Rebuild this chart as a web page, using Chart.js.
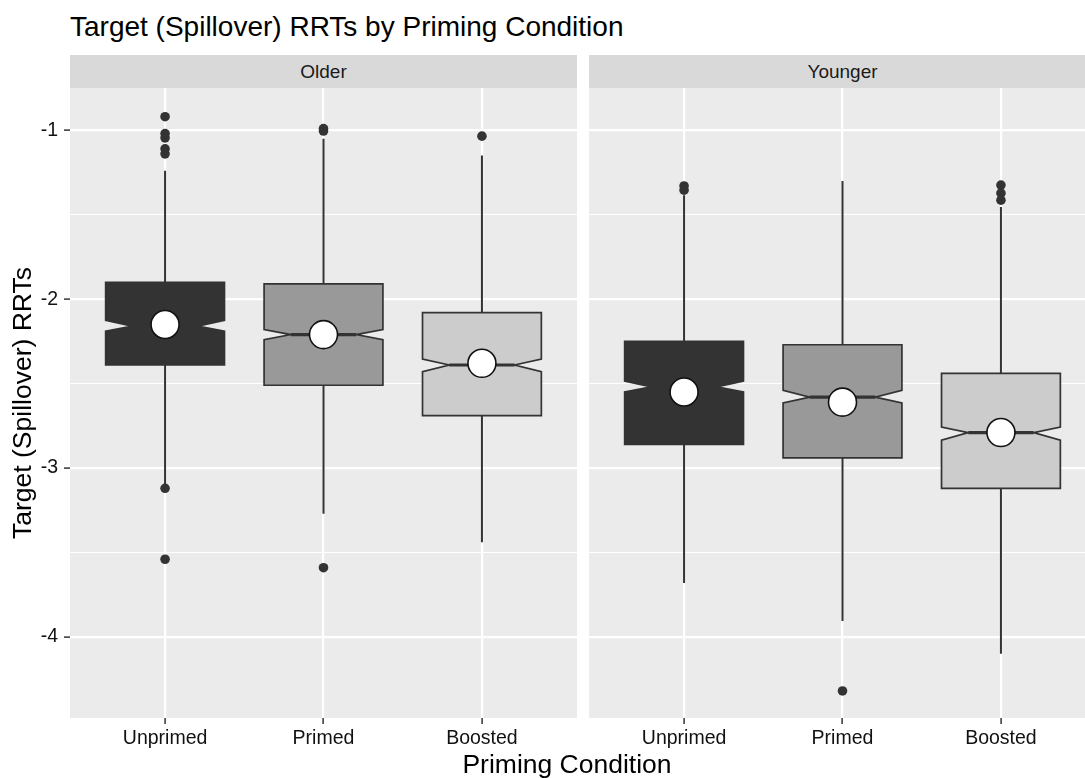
<!DOCTYPE html>
<html>
<head>
<meta charset="utf-8">
<title>Target (Spillover) RRTs by Priming Condition</title>
<script src="https://cdn.jsdelivr.net/npm/chart.js@4.4.1/dist/chart.umd.min.js"></script>
<style>
  html, body { margin: 0; padding: 0; background: #fff; overflow: hidden; }
  body { width: 1085px; height: 778px; position: relative; font-family: "Liberation Sans", Arial, sans-serif; }
  .plot-title { position: absolute; left: 70px; top: 13px; font-size: 28px; line-height: 28px; color: #000; white-space: nowrap; }
  .strip { position: absolute; top: 55px; width: 507px; height: 33px; background: #d9d9d9; color: #1a1a1a; font-size: 19px; line-height: 33px; text-align: center; }
  .x-title { position: absolute; left: 367px; width: 400px; top: 751px; font-size: 26.5px; line-height: 26px; color: #000; text-align: center; white-space: nowrap; }
  canvas { position: absolute; top: 0; }
</style>
</head>
<body>
<div class="plot-title">Target (Spillover) RRTs by Priming Condition</div>
<div class="strip" id="strip-older" style="left:70px"></div>
<div class="strip" id="strip-younger" style="left:589px"></div>
<canvas id="older" width="577" height="778" style="left:0"></canvas>
<canvas id="younger" width="507" height="778" style="left:589px"></canvas>
<div class="x-title">Priming Condition</div>

<script>
// facets and categories
const panels = ["Older", "Younger"];
const categories = ["Unprimed", "Primed", "Boosted"];
const yTicks = [-4, -3.5, -3, -2.5, -2, -1.5, -1];
const yMin = -4.48;
const yMax = -0.75;

// Older: box stats per condition
const olderLowerWhisker = [-3.10, -3.27, -3.44];
const olderQ1 = [-2.39, -2.51, -2.69];
const olderNotchLow = [-2.19, -2.24, -2.43];
const olderMedian = [-2.16, -2.21, -2.39];
const olderNotchHigh = [-2.125, -2.18, -2.355];
const olderQ3 = [-1.90, -1.91, -2.08];
const olderUpperWhisker = [-1.24, -1.05, -1.15];
const olderMean = [-2.15, -2.21, -2.38];
const olderOutliers = [
  [-0.92, -1.02, -1.045, -1.11, -1.14, -3.12, -3.54],
  [-0.99, -1.005, -3.59],
  [-1.035]
];

// Younger: box stats per condition
const youngerLowerWhisker = [-3.68, -3.905, -4.10];
const youngerQ1 = [-2.86, -2.94, -3.12];
const youngerNotchLow = [-2.55, -2.615, -2.835];
const youngerMedian = [-2.52, -2.58, -2.79];
const youngerNotchHigh = [-2.485, -2.54, -2.757];
const youngerQ3 = [-2.25, -2.27, -2.44];
const youngerUpperWhisker = [-1.385, -1.30, -1.455];
const youngerMean = [-2.55, -2.61, -2.79];
const youngerOutliers = [[-1.33, -1.355], [-4.32], [-1.325, -1.373, -1.414]];

const fills = ["#333333", "#999999", "#cccccc"];
const ink = "#333333";
const textColor = "#111111";
const FONT = "'Liberation Sans', Arial, sans-serif";

document.getElementById("strip-older").textContent = panels[0];
document.getElementById("strip-younger").textContent = panels[1];

const panelBg = {
  id: "panelBg",
  beforeDraw(chart) {
    const { ctx, chartArea: a } = chart;
    ctx.save();
    ctx.fillStyle = "#ebebeb";
    ctx.fillRect(a.left, a.top, a.right - a.left, a.bottom - a.top);
    ctx.restore();
  }
};

// notched boxes + whiskers, drawn under the points
function notchedBoxes(s) {
  return {
    id: "notchedBoxes",
    beforeDatasetsDraw(chart) {
      const { ctx } = chart;
      const x = chart.scales.x, y = chart.scales.y;
      const half = x.getPixelForValue(1.375) - x.getPixelForValue(1);
      const indent = half * 0.45;
      ctx.save();
      categories.forEach((c, i) => {
        const cx = x.getPixelForValue(i + 1);
        const l = cx - half, r = cx + half;
        const q1 = y.getPixelForValue(s.q1[i]);
        const q3 = y.getPixelForValue(s.q3[i]);
        const med = y.getPixelForValue(s.median[i]);
        const nLo = y.getPixelForValue(s.notchLow[i]);
        const nHi = y.getPixelForValue(s.notchHigh[i]);

        // whiskers
        ctx.strokeStyle = ink;
        ctx.lineWidth = 2;
        ctx.beginPath();
        ctx.moveTo(cx, q3);
        ctx.lineTo(cx, y.getPixelForValue(s.upper[i]));
        ctx.moveTo(cx, q1);
        ctx.lineTo(cx, y.getPixelForValue(s.lower[i]));
        ctx.stroke();

        // box with notch
        ctx.beginPath();
        ctx.moveTo(l, q3);
        ctx.lineTo(r, q3);
        ctx.lineTo(r, nHi);
        ctx.lineTo(r - indent, med);
        ctx.lineTo(r, nLo);
        ctx.lineTo(r, q1);
        ctx.lineTo(l, q1);
        ctx.lineTo(l, nLo);
        ctx.lineTo(l + indent, med);
        ctx.lineTo(l, nHi);
        ctx.closePath();
        ctx.fillStyle = fills[i];
        ctx.fill();
        ctx.lineWidth = 1.7;
        ctx.lineJoin = "miter";
        ctx.stroke();

        // median
        ctx.lineWidth = 3.2;
        ctx.beginPath();
        ctx.moveTo(l + indent, med);
        ctx.lineTo(r - indent, med);
        ctx.stroke();
      });
      ctx.restore();
    }
  };
}

function makeChart(id, s, outliers, means, showY) {
  const outlierPts = [];
  outliers.forEach((list, i) => list.forEach(v => outlierPts.push({ x: i + 1, y: v })));
  const meanPts = means.map((v, i) => ({ x: i + 1, y: v }));

  return new Chart(document.getElementById(id), {
    type: "scatter",
    data: {
      datasets: [
        {
          label: "mean",
          data: meanPts,
          pointRadius: 14,
          pointBackgroundColor: "#ffffff",
          pointBorderColor: "#111111",
          pointBorderWidth: 1.6
        },
        {
          label: "outliers",
          data: outlierPts,
          pointRadius: 4.8,
          pointBackgroundColor: ink,
          pointBorderColor: ink,
          pointBorderWidth: 0
        }
      ]
    },
    options: {
      responsive: false,
      animation: false,
      events: [],
      layout: { autoPadding: false, padding: { top: 88, right: 0, bottom: 0, left: 0 } },
      plugins: { legend: { display: false }, tooltip: { enabled: false } },
      scales: {
        x: {
          type: "linear",
          min: 0.4,
          max: 3.6,
          afterBuildTicks: axis => { axis.ticks = categories.map((c, i) => ({ value: i + 1 })); },
          afterFit: axis => { axis.height = 60; },
          border: { display: false },
          grid: { color: "#ffffff", lineWidth: 2.2, tickColor: ink, tickLength: 6, tickWidth: 1.5 },
          ticks: {
            padding: 3,
            autoSkip: false,
            maxRotation: 0,
            color: textColor,
            font: { family: FONT, size: 19.5 },
            callback: v => categories[v - 1]
          }
        },
        y: {
          type: "linear",
          min: yMin,
          max: yMax,
          afterBuildTicks: axis => { axis.ticks = yTicks.map(v => ({ value: v })); },
          afterFit: axis => { axis.width = showY ? 70 : 0; },
          border: { display: false },
          grid: {
            color: "#ffffff",
            lineWidth: c => (Number.isInteger(c.tick.value) ? 2.2 : 1.1),
            drawTicks: showY,
            tickLength: 6,
            tickWidth: 1.5,
            tickColor: c => (Number.isInteger(c.tick.value) ? ink : "rgba(0,0,0,0)")
          },
          ticks: {
            display: showY,
            padding: 6,
            color: textColor,
            font: { family: FONT, size: 19.5 },
            callback: v => (Number.isInteger(v) ? String(v) : "")
          },
          title: {
            display: showY,
            text: "Target (Spillover) RRTs",
            color: "#000",
            font: { family: FONT, size: 26.5 },
            padding: { top: 8, bottom: 0 }
          }
        }
      }
    },
    plugins: [panelBg, notchedBoxes(s)]
  });
}

makeChart("older", {
  lower: olderLowerWhisker, q1: olderQ1, notchLow: olderNotchLow, median: olderMedian,
  notchHigh: olderNotchHigh, q3: olderQ3, upper: olderUpperWhisker
}, olderOutliers, olderMean, true);

makeChart("younger", {
  lower: youngerLowerWhisker, q1: youngerQ1, notchLow: youngerNotchLow, median: youngerMedian,
  notchHigh: youngerNotchHigh, q3: youngerQ3, upper: youngerUpperWhisker
}, youngerOutliers, youngerMean, false);
</script>
</body>
</html>
